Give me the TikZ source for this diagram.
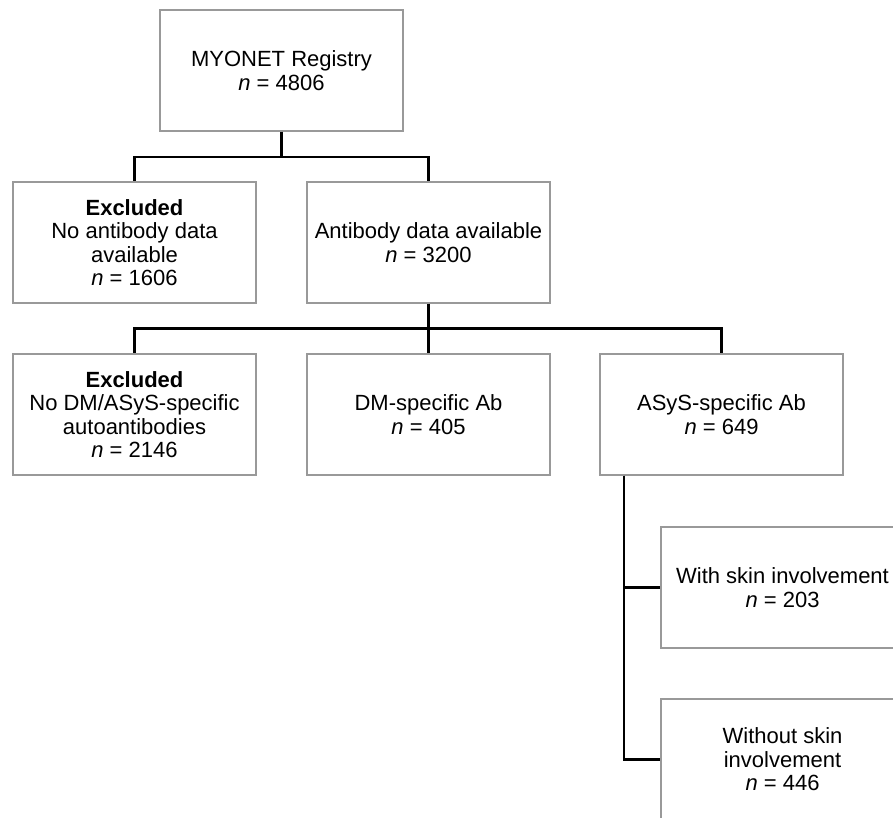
\documentclass[tikz,border=0pt]{standalone}
\usepackage{fontspec}
\setmainfont{Liberation Sans}
\definecolor{boxgray}{HTML}{999999}
\begin{document}
\begin{tikzpicture}[x=1pt,y=-1pt,
  box/.style={draw=boxgray, line width=1.1pt, fill=white, minimum width=243pt, minimum height=121pt,
    align=center, inner sep=0pt, font=\fontsize{22}{23.5}\selectfont},
  link/.style={line width=2.3pt, draw=black}]
\useasboundingbox (0,0) rectangle (893,817);
\clip (0,0) rectangle (893,817);
\node[box] (reg) at (281.5,70.5) {MYONET Registry\\\textit{n} = 4806};
\node[box] (exc1) at (134.5,242.5) {\textbf{Excluded}\\No antibody data\\available\\\textit{n} = 1606};
\node[box] (ab) at (428.5,242.5) {Antibody data available\\\textit{n} = 3200};
\node[box] (exc2) at (134.5,414.5) {\textbf{Excluded}\\No DM/ASyS-specific\\autoantibodies\\\textit{n} = 2146};
\node[box] (dm) at (428.5,414.5) {DM-specific Ab\\\textit{n} = 405};
\node[box] (asys) at (721.5,414.5) {ASyS-specific Ab\\\textit{n} = 649};
\node[box] (skin) at (782.5,587.5) {With skin involvement\\\textit{n} = 203};
\node[box] (noskin) at (782.5,759.5) {Without skin\\involvement\\\textit{n} = 446};
\coordinate (j1) at (281.5,157);
\coordinate (j2) at (428.5,328.5);
\coordinate (t0) at ([xshift=24.5pt]asys.south west);
\draw[link] (reg.south) -- (j1);
\draw[link] (j1) -| (exc1.north);
\draw[link] (j1) -| (ab.north);
\draw[link] (ab.south) -- (j2) -- (dm.north);
\draw[link] (j2) -| (exc2.north);
\draw[link] (j2) -| (asys.north);
\draw[link] (t0) |- (skin.west);
\draw[link] (t0) |- (noskin.west);
\end{tikzpicture}
\end{document}
